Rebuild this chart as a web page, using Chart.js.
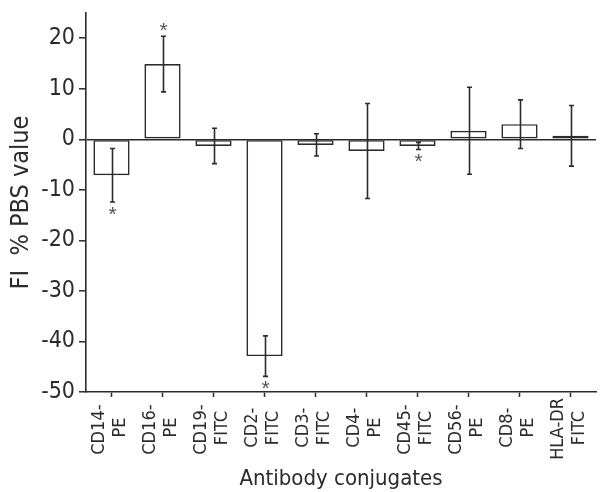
<!DOCTYPE html>
<html>
<head>
<meta charset="utf-8">
<script src="https://cdn.jsdelivr.net/npm/chart.js@4/dist/chart.umd.min.js"></script>
<style>
  html, body { margin: 0; padding: 0; background: #fff; }
  #wrap { width: 603px; height: 492px; position: relative; }
</style>
</head>
<body>
<div id="wrap"><canvas id="c" width="603" height="492"></canvas></div>
<script>
// ---- data ----
const markers = ['CD14-', 'CD16-', 'CD19-', 'CD2-', 'CD3-', 'CD4-', 'CD45-', 'CD56-', 'CD8-', 'HLA-DR'];
const fluors  = ['PE', 'PE', 'FITC', 'FITC', 'FITC', 'PE', 'FITC', 'PE', 'PE', 'FITC'];
const meanValues = [-7.1, 14.9, -1.3, -42.9, -1.1, -2.3, -1.3, 1.7, 3.0, 0.7];
const errorValues = [5.3, 5.5, 3.5, 4.0, 2.2, 9.4, 0.7, 8.6, 4.8, 6.0];
const significance = ['below', 'above', '', 'below', '', '', 'below', '', '', ''];
const yTicks = [-50, -40, -30, -20, -10, 0, 10, 20];
const yMin = -50, yMax = 25;
const yTitle = 'FI  % PBS value';
const xTitle = 'Antibody conjugates';

const NARROW = "'Liberation Sans Narrow', 'Arial Narrow', 'DejaVu Sans Condensed', sans-serif";
const INK = '#2b2b2b';
const XFONT = 18;

// center lines of rotated multi-line labels by trailing padding
const mc = document.createElement('canvas').getContext('2d');
mc.font = XFONT + 'px ' + NARROW;
const rawLabels = markers.map((m, i) => [m, fluors[i]]);
let maxW = 0;
rawLabels.forEach(l => l.forEach(s => { maxW = Math.max(maxW, mc.measureText(s).width); }));
const spaceW = mc.measureText('\u2009').width || 1;
const categories = rawLabels.map(l => l.map(s => {
  const n = Math.round((maxW - mc.measureText(s).width) / 2 / spaceW);
  return s + '\u2009'.repeat(Math.max(0, n));
}));

const errorBarPlugin = {
  id: 'errorBars',
  afterDatasetsDraw(chart) {
    const ctx = chart.ctx;
    const ys = chart.scales.y;
    const meta = chart.getDatasetMeta(0);
    ctx.save();
    ctx.strokeStyle = INK;
    ctx.lineWidth = 1.6;
    meta.data.forEach((bar, i) => {
      const x = Math.round(bar.x) + 0.5;
      const yt = ys.getPixelForValue(meanValues[i] + errorValues[i]);
      const yb = ys.getPixelForValue(meanValues[i] - errorValues[i]);
      ctx.beginPath();
      ctx.moveTo(x, yt); ctx.lineTo(x, yb);
      ctx.moveTo(x - 2.5, yt); ctx.lineTo(x + 2.5, yt);
      ctx.moveTo(x - 2.5, yb); ctx.lineTo(x + 2.5, yb);
      ctx.stroke();
      const s = significance[i];
      if (s) {
        ctx.fillStyle = '#555';
        ctx.font = '21px "Liberation Sans", sans-serif';
        ctx.textAlign = 'center';
        ctx.textBaseline = 'middle';
        const yy = s === 'above' ? yt - 5 : yb + 13;
        ctx.fillText('*', x, yy);
      }
    });
    ctx.restore();
  }
};

new Chart(document.getElementById('c'), {
  type: 'bar',
  data: {
    labels: categories,
    datasets: [{
      data: meanValues,
      backgroundColor: '#ffffff',
      borderColor: INK,
      borderWidth: 1.7,
      borderSkipped: false,
      barPercentage: 0.71,
      categoryPercentage: 1.0
    }]
  },
  options: {
    responsive: false,
    animation: false,
    devicePixelRatio: 1,
    layout: { padding: { top: 13, right: 7, left: 0, bottom: 0 } },
    plugins: { legend: { display: false }, tooltip: { enabled: false } },
    scales: {
      x: {
        offset: true,
        grid: { offset: false, drawOnChartArea: false, tickColor: INK, tickLength: 5, tickWidth: 1.5 },
        border: { color: INK, width: 1.6 },
        ticks: {
          color: INK,
          minRotation: 90, maxRotation: 90,
          autoSkip: false,
          padding: 1,
          labelOffset: -12,
          font: { family: NARROW, size: XFONT, lineHeight: 1.18 }
        },
        title: {
          display: true, text: xTitle, color: INK,
          font: { family: NARROW, size: 22 },
          padding: { top: 0, bottom: 0 }
        },
        afterFit(scale) {
          scale.height = 100;
          scale.paddingLeft = 0; scale.paddingRight = 0;
        }
      },
      y: {
        min: yMin, max: yMax,
        afterBuildTicks(scale) { scale.ticks = yTicks.map(v => ({ value: v })); },
        grid: {
          drawOnChartArea: true,
          color: c => (c.tick && c.tick.value === 0) ? INK : 'rgba(0,0,0,0)',
          lineWidth: 1.6,
          tickColor: INK, tickLength: 7, tickWidth: 1.5
        },
        border: { color: INK, width: 1.6 },
        ticks: {
          color: INK,
          padding: 4,
          font: { family: NARROW, size: 23 }
        },
        title: {
          display: true, text: yTitle, color: INK,
          font: { family: NARROW, size: 25 },
          padding: { top: 6, bottom: 0 }
        },
        afterFit(scale) {
          scale.width = 86;
          scale.paddingTop = 0; scale.paddingBottom = 0;
        }
      }
    }
  },
  plugins: [errorBarPlugin]
});
</script>
</body>
</html>
